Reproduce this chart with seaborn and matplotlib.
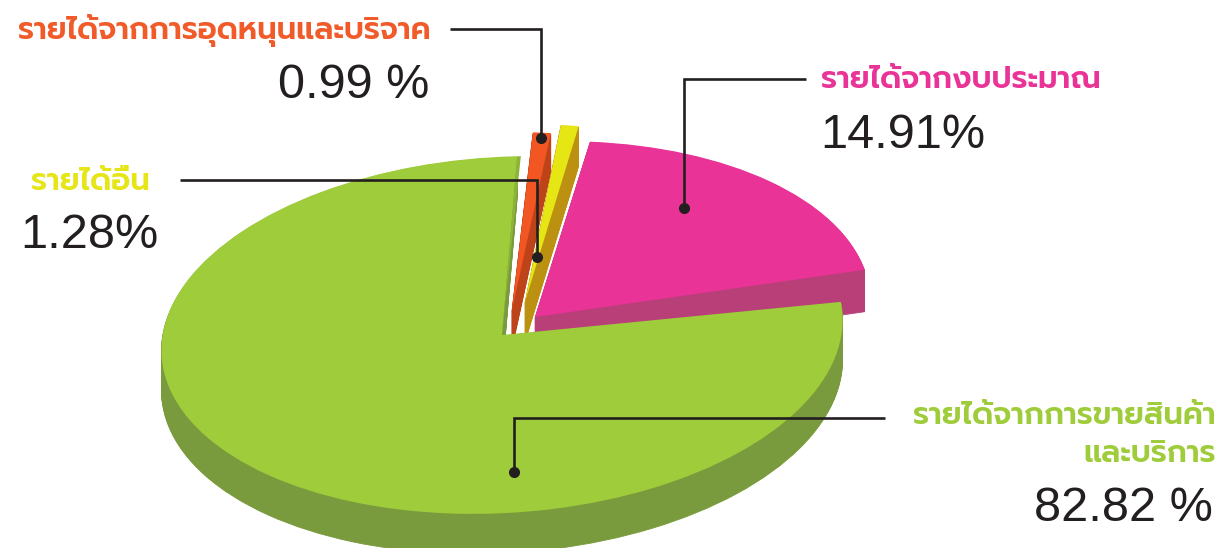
import matplotlib
matplotlib.use('Agg')
import matplotlib.pyplot as plt
import seaborn as sns
from matplotlib.transforms import Affine2D

# Text printed on the chart
name_orange = "รายได้จากการอุดหนุนและบริจาค"
name_yellow = "รายได้อื่น"
name_pink = "รายได้จากงบประมาณ"
name_green_1 = "รายได้จากการขายสินค้า"
name_green_2 = "และบริการ"
value_labels = ["0.99 %", "1.28%", "14.91%", "82.82 %"]

# Slice shares as they are drawn (percent of the full turn)
orange_share = 0.83
yellow_share = 0.83
pink_share = 19.4
green_share = 77.33
green_edge_share = 0.17

W, H = 1221, 548
sns.set_theme(style='white')
fig = plt.figure(figsize=(W / 100, H / 100), dpi=100)
ax = fig.add_axes([0, 0, 1, 1])


def Y(y):
    return H - y


# slice: share, start angle, centre, radii, tilt, depth, top colour, side colour
slices = [
    (orange_share, 83.5, (512, 310), 343, 178, 0, 38, '#F15623', '#BE4319'),
    (yellow_share, 81.0, (525, 302), 343, 178, 0, 40, '#E6E614', '#BC9111'),
    (pink_share, 8.9, (535, 317), 336, 175, 3.5, 42, '#E93397', '#B93F78'),
    (green_share, 85.6, (502, 335), 341, 178, 3.5, 40, '#9FCC3B', '#7A9B3D'),
    (green_edge_share, 85.0, (502, 335), 341, 178, 3.5, 0, '#8DB438', '#8DB438'),
]

for i, (share, start, c, rx, ry, tilt, depth, top, side) in enumerate(slices):
    for d in range(depth, -1, -1):
        wedges, _ = ax.pie([share, 100 - share], startangle=start, counterclock=True,
                           colors=[top if d == 0 else side, 'none'], radius=1, frame=False,
                           wedgeprops={'linewidth': 0.6 if d else 0, 'edgecolor': side if d else 'none'})
        wedges[1].remove()
        w = wedges[0]
        w.set_transform(Affine2D().scale(rx, ry).rotate_deg(tilt).translate(c[0], Y(c[1] + d)) + ax.transData)
        w.set_zorder(i + 1 + (depth - d) * 0.001)
        w.set_clip_on(False)

ax.set_aspect('auto')
ax.set_xlim(0, W)
ax.set_ylim(0, H)
ax.axis('off')

# leader lines
INK = '#231F20'
leaders = [
    ([450, 540.5, 540.5], [29, 29, 138]),
    ([180, 537, 537], [180, 180, 257]),
    ([806, 684, 684], [79, 79, 208]),
    ([885, 514, 514], [418, 418, 472]),
]
for xs, ys in leaders:
    ax.plot(xs, [Y(v) for v in ys], color=INK, lw=1.9, zorder=10, solid_joinstyle='miter', solid_capstyle='butt')
    ax.plot(xs[-1], Y(ys[-1]), 'o', color=INK, ms=8, mew=0, zorder=11)

THAI = ['Prompt', 'DejaVu Sans']
NUM = ['Liberation Sans', 'DejaVu Sans']
name_style = [
    (name_orange, 431, 39, '#F15A29'),
    (name_yellow, 150, 190, '#E5E517'),
    (name_pink, 1101, 88, '#E93397'),
    (name_green_1, 1216, 424, '#9FCC3B'),
    (name_green_2, 1216, 462, '#9FCC3B'),
]
value_style = [(429, 98), (158, 248), (985, 148), (1213, 521)]
for name, x, y, col in name_style:
    ax.text(x, Y(y), name, ha='right', va='baseline', color=col, fontsize=22, family=THAI, weight='semibold', zorder=12)
for val, (x, y) in zip(value_labels, value_style):
    ax.text(x, Y(y), val, ha='right', va='baseline', color=INK, fontsize=35, family=NUM, zorder=12)

fig.savefig('out.png', dpi=100)
